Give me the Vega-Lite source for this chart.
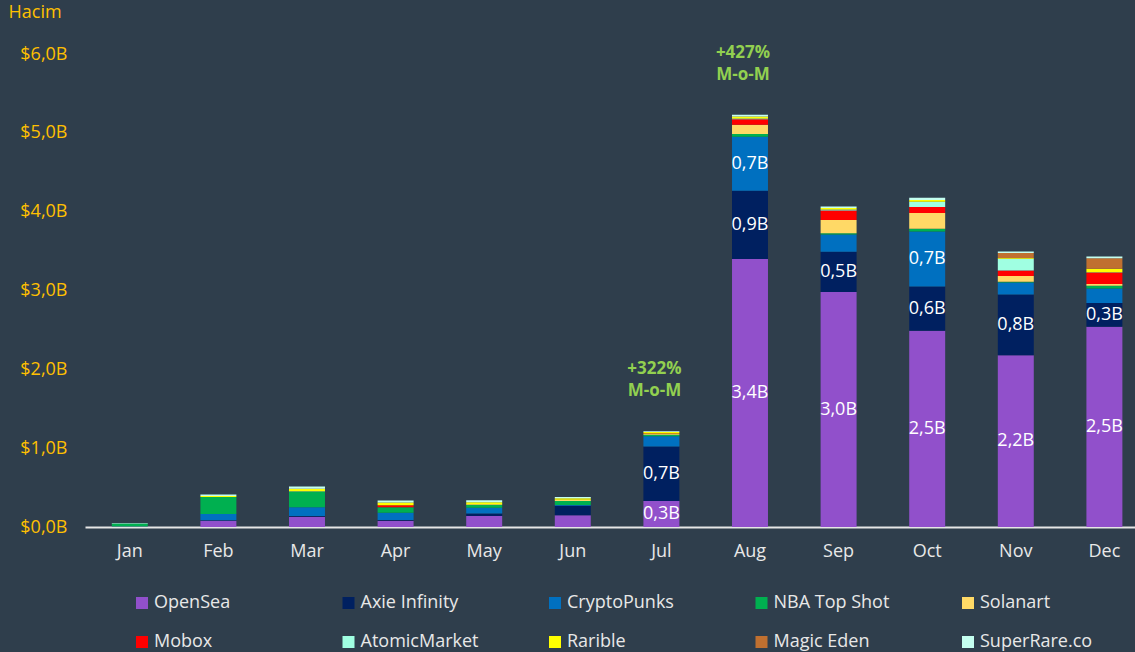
{
  "$schema": "https://vega.github.io/schema/vega-lite/v6.json",
  "width": 1050,
  "height": 473,
  "autosize": {"type": "none"},
  "padding": {"left": 85, "top": 54, "right": 0, "bottom": 125},
  "background": "#2f3e4c",
  "config": {"view": {"stroke": null}, "font": "Open Sans"},
  "datasets": {
    "vol": [
      {"month": "Jan", "series": "OpenSea", "value": 0.005},
      {"month": "Jan", "series": "NBA Top Shot", "value": 0.04},
      {"month": "Jan", "series": "SuperRare.co", "value": 0.005},
      {"month": "Feb", "series": "OpenSea", "value": 0.08},
      {"month": "Feb", "series": "Axie Infinity", "value": 0.005},
      {"month": "Feb", "series": "CryptoPunks", "value": 0.08},
      {"month": "Feb", "series": "NBA Top Shot", "value": 0.215},
      {"month": "Feb", "series": "Rarible", "value": 0.012},
      {"month": "Feb", "series": "SuperRare.co", "value": 0.02},
      {"month": "Mar", "series": "OpenSea", "value": 0.13},
      {"month": "Mar", "series": "Axie Infinity", "value": 0.01},
      {"month": "Mar", "series": "CryptoPunks", "value": 0.11},
      {"month": "Mar", "series": "NBA Top Shot", "value": 0.2},
      {"month": "Mar", "series": "AtomicMarket", "value": 0.005},
      {"month": "Mar", "series": "Rarible", "value": 0.03},
      {"month": "Mar", "series": "SuperRare.co", "value": 0.03},
      {"month": "Apr", "series": "OpenSea", "value": 0.08},
      {"month": "Apr", "series": "Axie Infinity", "value": 0.01},
      {"month": "Apr", "series": "CryptoPunks", "value": 0.09},
      {"month": "Apr", "series": "NBA Top Shot", "value": 0.07},
      {"month": "Apr", "series": "Mobox", "value": 0.025},
      {"month": "Apr", "series": "Rarible", "value": 0.035},
      {"month": "Apr", "series": "SuperRare.co", "value": 0.025},
      {"month": "May", "series": "OpenSea", "value": 0.14},
      {"month": "May", "series": "Axie Infinity", "value": 0.03},
      {"month": "May", "series": "CryptoPunks", "value": 0.075},
      {"month": "May", "series": "NBA Top Shot", "value": 0.035},
      {"month": "May", "series": "Solanart", "value": 0.01},
      {"month": "May", "series": "Rarible", "value": 0.025},
      {"month": "May", "series": "SuperRare.co", "value": 0.025},
      {"month": "Jun", "series": "OpenSea", "value": 0.15},
      {"month": "Jun", "series": "Axie Infinity", "value": 0.12},
      {"month": "Jun", "series": "CryptoPunks", "value": 0.01},
      {"month": "Jun", "series": "NBA Top Shot", "value": 0.05},
      {"month": "Jun", "series": "Solanart", "value": 0.015},
      {"month": "Jun", "series": "Rarible", "value": 0.02},
      {"month": "Jun", "series": "SuperRare.co", "value": 0.015},
      {"month": "Jul", "series": "OpenSea", "value": 0.33},
      {"month": "Jul", "series": "Axie Infinity", "value": 0.69},
      {"month": "Jul", "series": "CryptoPunks", "value": 0.13},
      {"month": "Jul", "series": "NBA Top Shot", "value": 0.02},
      {"month": "Jul", "series": "Solanart", "value": 0.01},
      {"month": "Jul", "series": "Mobox", "value": 0.005},
      {"month": "Jul", "series": "Rarible", "value": 0.02},
      {"month": "Jul", "series": "SuperRare.co", "value": 0.01},
      {"month": "Aug", "series": "OpenSea", "value": 3.4},
      {"month": "Aug", "series": "Axie Infinity", "value": 0.866},
      {"month": "Aug", "series": "CryptoPunks", "value": 0.685},
      {"month": "Aug", "series": "NBA Top Shot", "value": 0.034},
      {"month": "Aug", "series": "Solanart", "value": 0.118},
      {"month": "Aug", "series": "Mobox", "value": 0.068},
      {"month": "Aug", "series": "AtomicMarket", "value": 0.012},
      {"month": "Aug", "series": "Rarible", "value": 0.025},
      {"month": "Aug", "series": "SuperRare.co", "value": 0.02},
      {"month": "Sep", "series": "OpenSea", "value": 2.98},
      {"month": "Sep", "series": "Axie Infinity", "value": 0.51},
      {"month": "Sep", "series": "CryptoPunks", "value": 0.22},
      {"month": "Sep", "series": "NBA Top Shot", "value": 0.015},
      {"month": "Sep", "series": "Solanart", "value": 0.17},
      {"month": "Sep", "series": "Mobox", "value": 0.12},
      {"month": "Sep", "series": "AtomicMarket", "value": 0.012},
      {"month": "Sep", "series": "Rarible", "value": 0.02},
      {"month": "Sep", "series": "SuperRare.co", "value": 0.02},
      {"month": "Oct", "series": "OpenSea", "value": 2.49},
      {"month": "Oct", "series": "Axie Infinity", "value": 0.56},
      {"month": "Oct", "series": "CryptoPunks", "value": 0.7},
      {"month": "Oct", "series": "NBA Top Shot", "value": 0.034},
      {"month": "Oct", "series": "Solanart", "value": 0.2},
      {"month": "Oct", "series": "Mobox", "value": 0.076},
      {"month": "Oct", "series": "AtomicMarket", "value": 0.067},
      {"month": "Oct", "series": "Rarible", "value": 0.02},
      {"month": "Oct", "series": "SuperRare.co", "value": 0.03},
      {"month": "Nov", "series": "OpenSea", "value": 2.18},
      {"month": "Nov", "series": "Axie Infinity", "value": 0.77},
      {"month": "Nov", "series": "CryptoPunks", "value": 0.15},
      {"month": "Nov", "series": "NBA Top Shot", "value": 0.01},
      {"month": "Nov", "series": "Solanart", "value": 0.075},
      {"month": "Nov", "series": "Mobox", "value": 0.07},
      {"month": "Nov", "series": "AtomicMarket", "value": 0.147},
      {"month": "Nov", "series": "Rarible", "value": 0.01},
      {"month": "Nov", "series": "Magic Eden", "value": 0.065},
      {"month": "Nov", "series": "SuperRare.co", "value": 0.017},
      {"month": "Dec", "series": "OpenSea", "value": 2.54},
      {"month": "Dec", "series": "Axie Infinity", "value": 0.3},
      {"month": "Dec", "series": "CryptoPunks", "value": 0.185},
      {"month": "Dec", "series": "NBA Top Shot", "value": 0.034},
      {"month": "Dec", "series": "Solanart", "value": 0.025},
      {"month": "Dec", "series": "Mobox", "value": 0.143},
      {"month": "Dec", "series": "AtomicMarket", "value": 0.005},
      {"month": "Dec", "series": "Rarible", "value": 0.043},
      {"month": "Dec", "series": "Magic Eden", "value": 0.135},
      {"month": "Dec", "series": "SuperRare.co", "value": 0.02}
    ],
    "notes": [
      {"month": "Jul", "total": 1.215, "note": "+322%\nM-o-M"},
      {"month": "Aug", "total": 5.23, "note": "+427%\nM-o-M"}
    ]
  },
  "encoding": {
    "x": {
      "field": "month",
      "type": "ordinal",
      "scale": {
        "domain": ["Jan", "Feb", "Mar", "Apr", "May", "Jun", "Jul", "Aug", "Sep", "Oct", "Nov", "Dec"],
        "paddingInner": 0.594,
        "paddingOuter": 0.2225,
        "align": 0.68
      },
      "axis": {
        "title": null,
        "labelAngle": 0,
        "labelColor": "#e8e8e8",
        "labelFontSize": 18,
        "labelPadding": 15,
        "ticks": false,
        "domainColor": "#e6e6e6",
        "domainWidth": 2
      }
    }
  },
  "layer": [
    {
      "data": {"name": "vol"},
      "transform": [
        {"calculate": "indexof(['OpenSea','Axie Infinity','CryptoPunks','NBA Top Shot','Solanart','Mobox','AtomicMarket','Rarible','Magic Eden','SuperRare.co'], datum.series)", "as": "rank"},
        {"stack": "value", "groupby": ["month"], "sort": [{"field": "rank", "order": "ascending"}], "as": ["v0", "v1"]}
      ],
      "layer": [
        {
          "mark": {"type": "bar"},
          "encoding": {
            "y": {
              "field": "v1",
              "type": "quantitative",
              "scale": {"domain": [0, 6], "nice": false},
              "axis": {
                "title": "Hacim",
                "titleAngle": 0,
                "titleAlign": "left",
                "titleBaseline": "middle",
                "titleX": -77,
                "titleY": -42,
                "titleColor": "#FFC000",
                "titleFontSize": 18,
                "titleFontWeight": "normal",
                "values": [0, 1, 2, 3, 4, 5, 6],
                "labelExpr": "'$' + replace(format(datum.value, '.1f'), '.', ',') + 'B'",
                "labelColor": "#FFC000",
                "labelFontSize": 18,
                "labelPadding": 18,
                "domain": false,
                "ticks": false,
                "grid": false
              }
            },
            "y2": {"field": "v0"},
            "color": {
              "field": "series",
              "type": "nominal",
              "scale": {
                "domain": ["OpenSea", "Axie Infinity", "CryptoPunks", "NBA Top Shot", "Solanart", "Mobox", "AtomicMarket", "Rarible", "Magic Eden", "SuperRare.co"],
                "range": ["#9150CB", "#002060", "#0070C0", "#00B050", "#FFD966", "#FF0000", "#A0FFE2", "#FFFF00", "#C07030", "#C4FFF0"]
              },
              "legend": {
                "title": null,
                "orient": "none",
                "legendX": 48,
                "legendY": 540,
                "direction": "horizontal",
                "columns": 5,
                "gridAlign": "all",
                "columnPadding": 67.5,
                "rowPadding": 21,
                "padding": 0,
                "symbolType": "square",
                "symbolSize": 144,
                "symbolStrokeWidth": 0,
                "labelFontSize": 18,
                "labelColor": "#e8e8e8",
                "labelOffset": 3
              }
            }
          }
        },
        {
          "transform": [
            {"filter": "indexof(['OpenSea','Axie Infinity','CryptoPunks'], datum.series) >= 0 && datum.value >= 0.25"},
            {"calculate": "(datum.v0 + datum.v1) / 2", "as": "mid"},
            {"calculate": "replace(format(datum.value, '.1f'), '.', ',') + 'B'", "as": "label"}
          ],
          "mark": {"type": "text", "color": "#ffffff", "fontSize": 18, "baseline": "middle", "align": "center"},
          "encoding": {
            "y": {"field": "mid", "type": "quantitative"},
            "text": {"field": "label", "type": "nominal"}
          }
        }
      ]
    },
    {
      "data": {"name": "notes"},
      "mark": {"type": "text", "color": "#92D050", "fontSize": 17, "fontWeight": "bold", "baseline": "bottom", "align": "center", "lineBreak": "\n", "lineHeight": 22, "dy": -53, "dx": -7},
      "encoding": {
        "y": {"field": "total", "type": "quantitative"},
        "text": {"field": "note", "type": "nominal"}
      }
    }
  ]
}
